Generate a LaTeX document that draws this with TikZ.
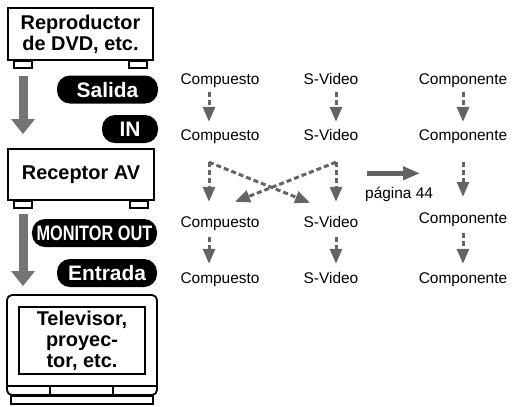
\documentclass[tikz,border=0pt]{standalone}
\usepackage{fontspec}
\setmainfont{Liberation Sans}
\usepackage{graphicx}
\usepackage{xcolor}
\usetikzlibrary{positioning,arrows.meta,calc}
\definecolor{arrowgray}{RGB}{100,100,100}

\begin{document}
\begin{tikzpicture}[x=1bp,y=-1bp, % pixel coordinates, y going down
  device/.style={draw=black,line width=1.8bp,inner sep=0,align=center,
    font=\fontsize{20}{21}\selectfont\bfseries},
  pill/.style={fill=black,rounded corners=13bp,inner sep=0,minimum height=28bp,
    text=white,text height=15bp,text depth=0pt,font=\fontsize{21}{21}\selectfont\bfseries},
  sigtext/.style={inner sep=0,text height=11bp,text depth=3bp,font=\fontsize{15.5}{15.5}\selectfont},
  bigarrow/.style={draw=arrowgray!90,line width=9bp,-{Triangle[width=23bp,length=15bp]}},
  dasharrow/.style={draw=arrowgray,line width=3bp,dash pattern=on 5bp off 3bp,
    -{Triangle[width=12bp,length=15bp]}},
  pagearrow/.style={draw=arrowgray,line width=5.5bp,-{Triangle[width=13bp,length=17bp]}},
]
\useasboundingbox (0,0) rectangle (515,406);

% Left column: devices
\node[device,minimum width=145bp,minimum height=52bp] (dvd) at (80.5,34) {Reproductor\\de DVD, etc.};
\node[device,minimum width=146bp,minimum height=51bp] (rec) at (81,174.5) {Receptor AV};

% feet of the boxes
\foreach \b in {dvd,rec} {
  \draw[line width=1.6bp] ($(\b.south west)+(7,0)$) rectangle ++(18,7);
  \draw[line width=1.6bp] ($(\b.south east)+(-7,0)$) rectangle ++(-18,7);
}

% Television
\node[draw=black,line width=1.8bp,rounded corners=5bp,inner sep=0,
  minimum width=150bp,minimum height=100bp] (tvbox) at (82,345) {};
\node[device,line width=1.5bp,minimum width=126bp,minimum height=67bp] (tv) at (82,340.5) {Televisor,\\proyec-\\tor, etc.};
\draw[line width=1.5bp] ($(tvbox.south west)+(0,-10)$) -- ($(tvbox.south east)+(0,-10)$);
\draw[line width=1.5bp] (50,385) -- (50,395);
\draw[line width=1.5bp] (113,385) -- (113,395);
\draw[line width=1.8bp] ($(tvbox.south west)+(5,0)$) rectangle ($(tvbox.south east)+(-5,8)$);

% Connection labels
\node[pill,minimum width=101bp] (out1) at (107.5,89.5) {Salida};
\node[pill,minimum width=56bp] (in1) at (130,129) {IN};
\node[pill,minimum width=125bp] (out2) at (94.5,233) {\scalebox{0.78}[1]{MONITOR OUT}};
\node[pill,minimum width=100bp] (in2) at (107,273) {Entrada};

% big gray arrows
\coordinate (ax) at (23,0);
\draw[bigarrow,shorten <=15bp,shorten >=14bp] (dvd.south -| ax) -- (rec.north -| ax);
\draw[bigarrow,shorten <=13bp,shorten >=8bp] (rec.south -| ax) -- (tvbox.north -| ax);

% Right side: signal names
\foreach \c/\txt/\xc/\ythree in {1/Compuesto/220/227, 2/S-Video/331/227, 3/Componente/463/223} {
  \foreach \r/\yb in {1/84, 2/140, 3/\ythree, 4/283} {
    \node[sigtext,anchor=base] (c\c r\r) at (\xc,\yb) {\txt};
  }
}

% arrow positions
\coordinate (a1) at (209,0);
\coordinate (a2) at (336,0);
\coordinate (a3) at (463,0);

\foreach \c in {1,2,3} {
  \draw[dasharrow,shorten <=5bp,shorten >=7bp] (c\c r1.south -| a\c) -- (c\c r2.north -| a\c);
  \draw[dasharrow,shorten <=7bp,shorten >=8bp] (c\c r3.south -| a\c) -- (c\c r4.north -| a\c);
}
\draw[dasharrow,shorten <=19bp,shorten >=14bp] (c1r2.south -| a1) -- (c1r3.north -| a1);
\draw[dasharrow,shorten <=19bp,shorten >=14bp] (c2r2.south -| a2) -- (c2r3.north -| a2);
\draw[dasharrow,shorten <=19bp,shorten >=15bp] (c3r2.south -| a3) -- (c3r3.north -| a3);

% crossing arrows
\draw[dasharrow] ($(c1r2.south -| a1)+(0,19)$) -- ($(c2r3.north -| a2)+(-26,-13)$);
\draw[dasharrow] ($(c2r2.south -| a2)+(0,19)$) -- ($(c1r3.north -| a1)+(26,-14)$);

% page reference
\node[sigtext,anchor=base west] (pag) at (365,198) {página 44};
\draw[pagearrow] ($(pag.north west)+(2,-13.5)$) -- ++(53,0);

\end{tikzpicture}
\end{document}
